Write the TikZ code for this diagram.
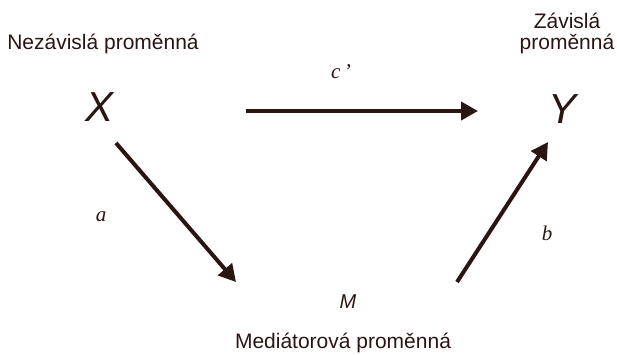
\documentclass[tikz,border=0pt]{standalone}
\usepackage{fontspec}
\setmainfont{Liberation Sans}
\newfontfamily\serifit{Liberation Serif}
\usetikzlibrary{arrows.meta}
\definecolor{ink}{HTML}{2B1513}
\begin{document}
\begin{tikzpicture}[x=1pt,y=-1pt,
  every node/.style={inner sep=0pt,text=ink},
  varname/.style={font=\fontsize{21}{25}\selectfont, align=center},
  bigvar/.style={font=\fontsize{42}{46}\selectfont\itshape},
  midvar/.style={font=\fontsize{20}{24}\selectfont\itshape},
  coef/.style={font=\serifit\fontsize{21}{24}\selectfont\itshape},
  path arrow/.style={draw=ink, line width=4pt,
    -{Triangle[length=17pt,width=18pt]}}]
\useasboundingbox (0,0) rectangle (617,354);
% variable names and captions
\node[varname] (xcap) at (103,44) {Nezávislá proměnná};
\node[varname] (ycap) at (567,33) {Závislá\\[-4pt]proměnná};
\node[varname] (mcap) at (343,343) {Mediátorová proměnná};
\node[bigvar] (X) at (100,107) {X};
\node[bigvar] (Y) at (562,109) {Y};
\node[midvar] (M) at (348,302) {M};
% path endpoints
\coordinate (c0) at (246,111);
\coordinate (c1) at (478,111);
\coordinate (a0) at (116,143);
\coordinate (a1) at (236,282);
\coordinate (b0) at (457,282);
\coordinate (b1) at (548,142);
% paths
\draw[path arrow] (c0) -- (c1);
\draw[path arrow] (a0) -- (a1);
\draw[path arrow] (b0) -- (b1);
% coefficients
\node[coef] (c) at (341,72) {c\,’};
\node[coef] (a) at (101,217) {a};
\node[coef] (b) at (547,233) {b};
\end{tikzpicture}
\end{document}
